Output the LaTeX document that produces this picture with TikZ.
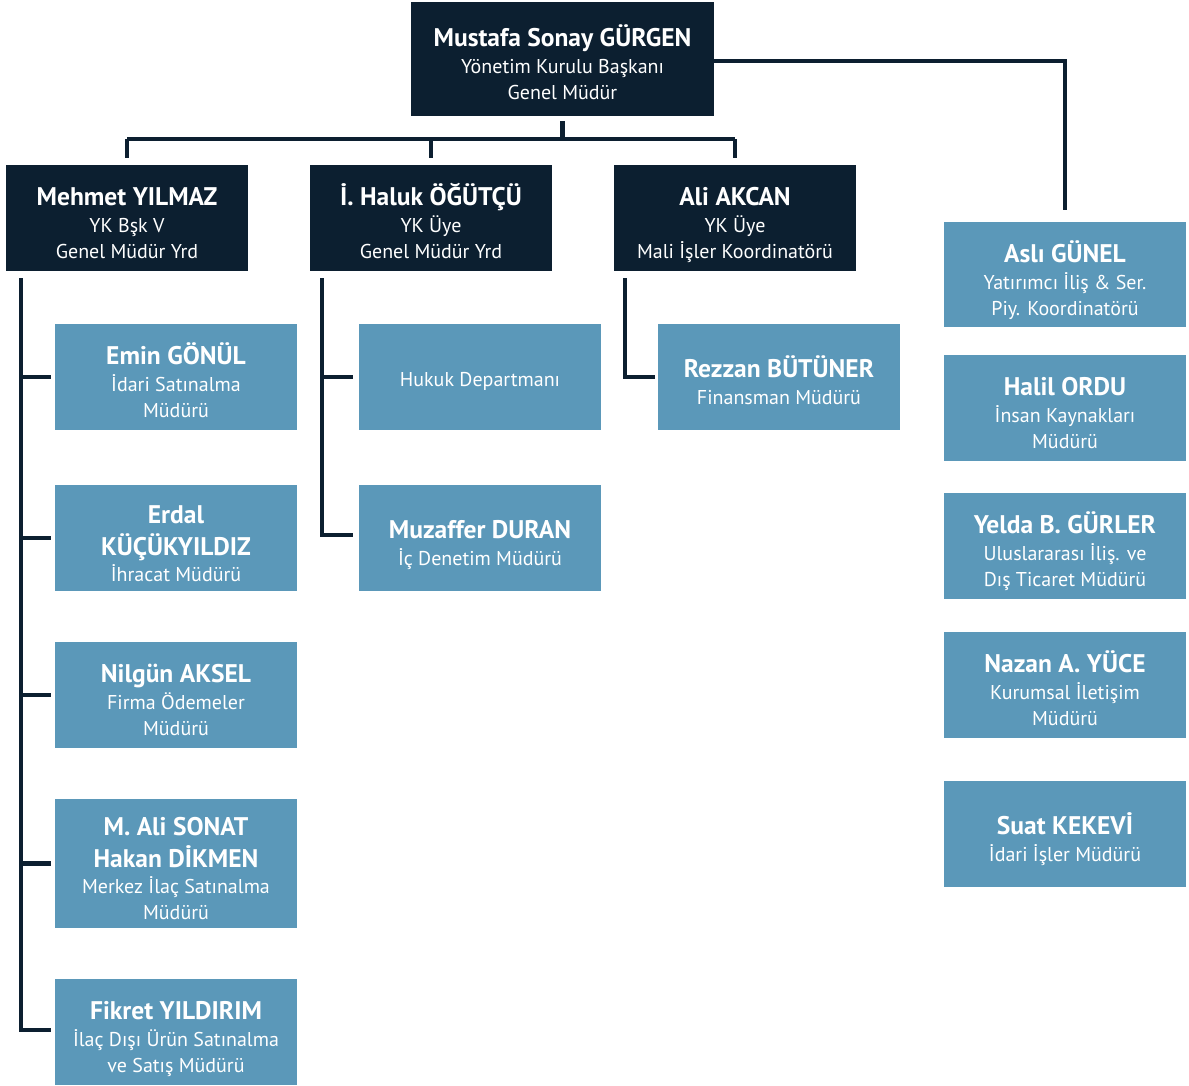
\documentclass[tikz,border=0pt]{standalone}
\usepackage{fontspec}
\setmainfont{PT Sans}
\usetikzlibrary{calc}
\definecolor{dk}{HTML}{0C1F30}
\definecolor{lt}{HTML}{5B98B9}
\newcommand\nm[1]{{\fontsize{25.5}{30}\selectfont\bfseries #1}}
\newcommand\fs{\rule{0pt}{35pt}}
\newcommand\ls{\rule[-7pt]{0pt}{7pt}}
\tikzset{
  box/.style={rectangle, inner sep=0pt, text=white, align=center,
    font=\fontsize{20}{26}\selectfont, minimum width=242pt, minimum height=106pt},
  dkbox/.style={box, fill=dk},
  ltbox/.style={box, fill=lt},
  ln/.style={draw=dk, line width=4.5pt, line join=miter}
}
\begin{document}
\begin{tikzpicture}[x=1pt,y=-1pt]
\useasboundingbox (0,0) rectangle (1189,1086);
% top
\node[dkbox, minimum width=303pt, minimum height=114pt] (top) at (562.5,59) {\fs\nm{Mustafa Sonay GÜRGEN}\\[1pt] Yönetim Kurulu Başkanı\\ Genel Müdür\ls};
% second row
\node[dkbox] (mehmet) at (127,218) {\fs\nm{Mehmet YILMAZ}\\[1pt] YK Bşk V\\ Genel Müdür Yrd\ls};
\node[dkbox] (haluk) at (431,218) {\fs\nm{İ. Haluk ÖĞÜTÇÜ}\\[1pt] YK Üye\\ Genel Müdür Yrd\ls};
\node[dkbox] (ali) at (735,218) {\fs\nm{Ali AKCAN}\\[1pt] YK Üye\\ Mali İşler Koordinatörü\ls};
% column 1
\node[ltbox] (emin) at (176,377) {\fs\nm{Emin GÖNÜL}\\[1pt] İdari Satınalma\\ Müdürü\ls};
\node[ltbox] (erdal) at (176,538) {\fs\nm{Erdal}\\[6pt] \nm{KÜÇÜKYILDIZ}\\[0pt] İhracat Müdürü\ls};
\node[ltbox] (nilgun) at (176,695) {\fs\nm{Nilgün AKSEL}\\[1pt] Firma Ödemeler\\ Müdürü\ls};
\node[ltbox, minimum height=129pt] (mali) at (176,863.5) {\fs\nm{M. Ali SONAT}\\[6pt] \nm{Hakan DİKMEN}\\[0pt] Merkez İlaç Satınalma\\ Müdürü\ls};
\node[ltbox] (fikret) at (176,1032) {\fs\nm{Fikret YILDIRIM}\\[1pt] İlaç Dışı Ürün Satınalma\\ ve Satış Müdürü\ls};
% column 2
\node[ltbox] (hukuk) at (480,377) {\rule{0pt}{23pt}Hukuk Departmanı};
\node[ltbox] (muzaffer) at (480,538) {\fs\nm{Muzaffer DURAN}\\[1pt] İç Denetim Müdürü\ls};
% column 3
\node[ltbox] (rezzan) at (779,377) {\fs\nm{Rezzan BÜTÜNER}\\[1pt] Finansman Müdürü\ls};
% right column
\node[ltbox, minimum height=105pt] (asli) at (1065,274.5) {\fs\nm{Aslı GÜNEL}\\[1pt] Yatırımcı İliş \& Ser.\\ Piy. Koordinatörü\ls};
\node[ltbox] (halil) at (1065,408) {\fs\nm{Halil ORDU}\\[1pt] İnsan Kaynakları\\ Müdürü\ls};
\node[ltbox] (yelda) at (1065,546) {\fs\nm{Yelda B. GÜRLER}\\[1pt] Uluslararası İliş. ve\\ Dış Ticaret Müdürü\ls};
\node[ltbox] (nazan) at (1065,685) {\fs\nm{Nazan A. YÜCE}\\[1pt] Kurumsal İletişim\\ Müdürü\ls};
\node[ltbox] (suat) at (1065,834) {\fs\nm{Suat KEKEVİ}\\[1pt] İdari İşler Müdürü\ls};
% top connectors
\coordinate (j) at ($(top.south)+(0,23)$);
\draw[ln] ($(top.south)+(0,5)$) -- (j);
\draw[ln] (mehmet.north |- j) -- (ali.north |- j);
\draw[ln] (mehmet.north |- j) -- ($(mehmet.north)+(0,-7)$);
\draw[ln] (haluk.north |- j) -- ($(haluk.north)+(0,-7)$);
\draw[ln] (ali.north |- j) -- ($(ali.north)+(0,-7)$);
\draw[ln] ($(top.east)+(0,2)$) -| ($(asli.north)+(0,-12)$);
% column 1 spine
\coordinate (s1) at ($(mehmet.south west)+(15,7)$);
\draw[ln] (s1) |- ($(fikret.west)+(-4,-2)$);
\draw[ln] (s1 |- emin.west) -- ($(emin.west)+(-4,0)$);
\draw[ln] (s1 |- erdal.west) -- ($(erdal.west)+(-4,0)$);
\draw[ln] (s1 |- nilgun.west) -- ($(nilgun.west)+(-4,0)$);
\draw[ln] (s1 |- mali.west) -- ($(mali.west)+(-4,0)$);
% column 2 spine
\coordinate (s2) at ($(haluk.south west)+(12,7)$);
\draw[ln] (s2) |- ($(muzaffer.west)+(-6,-3)$);
\draw[ln] (s2 |- hukuk.west) -- ($(hukuk.west)+(-6,0)$);
% column 3 spine
\coordinate (s3) at ($(ali.south west)+(11,7)$);
\draw[ln] (s3) |- ($(rezzan.west)+(-3,0)$);
\end{tikzpicture}
\end{document}
